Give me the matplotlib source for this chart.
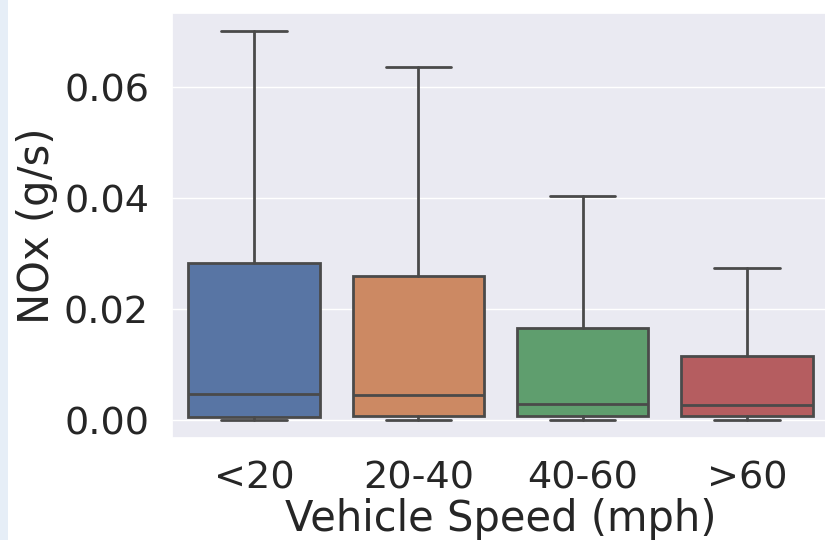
import matplotlib
matplotlib.use("Agg")
import matplotlib.pyplot as plt
import seaborn as sns
from matplotlib.patches import Rectangle

sns.set_theme(style="darkgrid", font_scale=2.5)

# speed bins and box statistics (g/s)
speed_bins = ["<20", "20-40", "40-60", ">60"]
whisker_low = [0.0, 0.0, 0.0, 0.0]
q1 = [0.0006, 0.0008, 0.0007, 0.0007]
median = [0.0047, 0.0045, 0.0029, 0.0027]
q3 = [0.0284, 0.0260, 0.0166, 0.0115]
whisker_high = [0.0701, 0.0636, 0.0404, 0.0274]

colors = ["#5875a4", "#cc8963", "#5f9e6e", "#b55d60"]
edge = "#4a4a4a"

stats = []
for i, name in enumerate(speed_bins):
    stats.append({"label": name, "whislo": whisker_low[i], "q1": q1[i], "med": median[i],
                  "q3": q3[i], "whishi": whisker_high[i], "fliers": []})

fig = plt.figure(figsize=(8.25, 5.4), dpi=100)
ax = fig.add_axes([172 / 825, 102 / 540, 657 / 825, 425 / 540])

bp = ax.bxp(stats, positions=range(len(stats)), widths=0.8, capwidths=0.4,
            patch_artist=True, showfliers=False,
            boxprops=dict(edgecolor=edge, linewidth=2),
            whiskerprops=dict(color=edge, linewidth=2),
            capprops=dict(color=edge, linewidth=2),
            medianprops=dict(color=edge, linewidth=2))
for patch, c in zip(bp["boxes"], colors):
    patch.set_facecolor(c)

ax.set_xlim(-0.5, 3.5)
ax.set_ylim(-0.00324, 0.0734)
ax.set_yticks([0.0, 0.02, 0.04, 0.06])
ax.set_yticklabels(["0.00", "0.02", "0.04", "0.06"])
ax.set_xticks(range(len(speed_bins)))
ax.set_xticklabels(speed_bins)
ax.tick_params(pad=10.5)
ax.set_xlabel("Vehicle Speed (mph)", labelpad=1)
ax.set_ylabel("NOx (g/s)")
ax.xaxis.grid(False)

# light strip at the left edge of the screenshot
fig.patches.append(Rectangle((0, 0), 8 / 825, 1, transform=fig.transFigure,
                             facecolor="#e6eef7", edgecolor="none"))

fig.savefig("out.png", dpi=100)
